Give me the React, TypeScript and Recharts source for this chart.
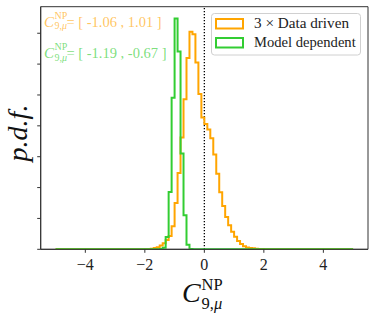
import { LineChart, Line, XAxis, YAxis, ReferenceLine, ReferenceArea, Legend } from "recharts";

// histogram bins of width 0.1 on [-5, 5]; heights in y-tick units
const binWidth = 0.1;
const rangeMin = -5;
const binCount = 100;

const orangeStart = -1.8;
const orangeHeights = [
    0.02, 0.04, 0.07, 0.12, 0.2, 0.3, 0.43, 0.75, 1.5, 2.47, 3.62, 4.86, 6.2,
    7.05, 6.97, 6.05, 5.03, 4.27, 4.06, 3.88, 3.6, 3.07, 2.45, 1.85, 1.4, 1.05,
    0.78, 0.57, 0.41, 0.27, 0.17, 0.1, 0.06, 0.04, 0.03, 0.02, 0.01, 0.01,
];

const greenStart = -1.5;
const greenHeights = [0.01, 0.05, 0.4, 1.86, 4.91, 7.48, 6.41, 3.1, 1.1, 0.15, 0.01];

const xTicks = [-4, -2, 0, 2, 4];
const yTicks = [0, 1, 2, 3, 4, 5, 6, 7];

const seriesNames = ["3 \u00d7 Data driven", "Model dependent"];
const orangeInterval = "= [ -1.06 , 1.01 ]";
const greenInterval = "= [ -1.19 , -0.67 ]";

const ORANGE = "#ffa500";
const GREEN = "#32cd32";
const FONT = "'Liberation Serif', 'DejaVu Serif', serif";

const binValue = (heights: number[], start: number, k: number) => {
    const idx = k - Math.round((start - rangeMin) / binWidth);
    return idx >= 0 && idx < heights.length ? heights[idx] : 0;
};

const data = Array.from({ length: binCount + 1 }, (_, k) => ({
    x: Math.round((rangeMin + k * binWidth) * 10) / 10,
    orange: k < binCount ? binValue(orangeHeights, orangeStart, k) : 0,
    green: k < binCount ? binValue(greenHeights, greenStart, k) : 0,
}));

const formatTick = (v: number) => (v < 0 ? "\u2212" + Math.abs(v) : String(v));

const CSymbol = (props: { x: number; y: number; size: number; sub: number; color: string; supDy: number; subDy: number }) => {
    const { x, y, size, sub, color, supDy, subDy } = props;
    return (
        <g fill={color} fontFamily={FONT}>
            <text x={x} y={y} fontSize={size} fontStyle="italic">C</text>
            <text x={x + size * 0.7} y={y - supDy} fontSize={sub}>NP</text>
            <text x={x + size * 0.7} y={y + subDy} fontSize={sub}>
                9,<tspan fontStyle="italic">{"\u03bc"}</tspan>
            </text>
        </g>
    );
};

const LegendBox = () => (
    <svg width={151} height={43} style={{ display: "block", overflow: "visible" }}>
        <rect x={0.5} y={0.5} width={149} height={41.5} rx={3} fill="rgba(255,255,255,0.8)" stroke="#d0d0d0" />
        {[ORANGE, GREEN].map((c, i) => (
            <g key={i}>
                <rect x={5} y={6 + i * 19} width={27} height={9.5} fill="none" stroke={c} strokeWidth={2} />
                <text x={43} y={15 + i * 19} fontSize={i === 0 ? 15.2 : 14.6} fontFamily={FONT} fill="#222">{seriesNames[i]}</text>
            </g>
        ))}
    </svg>
);

export default function App() {
    return (
        <div style={{ position: "absolute", left: 0, top: 0, width: 374, height: 319, background: "#fff" }}>
            <LineChart width={374} height={319} data={data} margin={{ top: 6.7, right: 6, left: 0, bottom: 39.7 }}>
                <XAxis
                    dataKey="x"
                    type="number"
                    domain={[-5.5, 5.5]}
                    ticks={xTicks}
                    tickFormatter={formatTick}
                    height={30}
                    tickSize={3.5}
                    tickMargin={6}
                    tick={{ fontSize: 16, fill: "#222", fontFamily: FONT }}
                    stroke="#333"
                    allowDataOverflow
                />
                <YAxis
                    type="number"
                    domain={[0, 7.86]}
                    ticks={yTicks}
                    tickFormatter={() => ""}
                    width={40.7}
                    tickSize={3.5}
                    stroke="#333"
                    allowDataOverflow
                />
                <ReferenceArea x1={-5.5} x2={5.5} y1={0} y2={7.86} fill="none" stroke="#333" strokeWidth={1} ifOverflow="visible" />
                <ReferenceLine x={0} stroke="#000" strokeWidth={1.3} strokeDasharray="1.3 1.7" />
                <Line dataKey="orange" type="stepAfter" stroke={ORANGE} strokeWidth={2} dot={false} isAnimationActive={false} />
                <Line dataKey="green" type="stepAfter" stroke={GREEN} strokeWidth={2} dot={false} isAnimationActive={false} />
                <Legend
                    layout="horizontal"
                    verticalAlign="middle"
                    align="center"
                    content={() => <LegendBox />}
                    wrapperStyle={{ top: 13, left: 210.5, width: 151, height: 43 }}
                />
            </LineChart>
            <svg width={374} height={319} style={{ position: "absolute", left: 0, top: 0, pointerEvents: "none" }}>
                <CSymbol x={44} y={26.7} size={15} sub={10} supDy={8} subDy={2.5} color="rgba(255,165,0,0.65)" />
                <text x={66.5} y={26.7} fontSize={14.5} fontFamily={FONT} fill="rgba(255,165,0,0.65)" xmlSpace="preserve">{orangeInterval}</text>
                <CSymbol x={44} y={58.3} size={15} sub={10} supDy={8} subDy={2.5} color="rgba(50,205,50,0.65)" />
                <text x={66.5} y={58.3} fontSize={14.5} fontFamily={FONT} fill="rgba(50,205,50,0.65)" xmlSpace="preserve">{greenInterval}</text>
                <CSymbol x={182} y={302} size={28} sub={16.5} supDy={12} subDy={7} color="#111" />
                <text x={27} y={133} transform="rotate(-90 27 133)" textAnchor="middle" fontSize={28} fontStyle="italic" fontFamily={FONT} fill="#111">p.d.f.</text>
            </svg>
        </div>
    );
}
